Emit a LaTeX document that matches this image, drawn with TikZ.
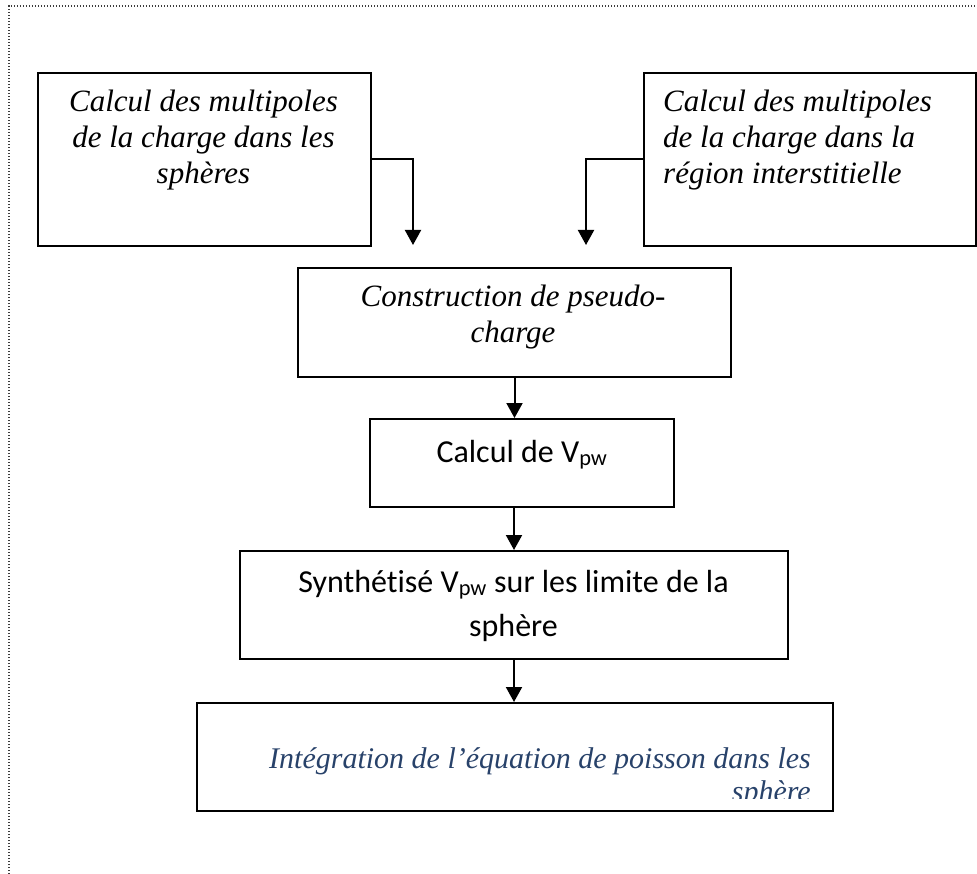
\documentclass[tikz,border=0pt]{standalone}
\usepackage{fontspec}
\setmainfont{Liberation Serif}
\newfontfamily\calib[Ligatures=NoCommon]{Carlito}
\newfontfamily\camb{Liberation Serif}
\usetikzlibrary{arrows.meta}
\definecolor{cambblue}{RGB}{40,66,106}
\definecolor{dotgray}{RGB}{60,60,60}
\tikzset{
  boxnode/.style={draw=black, line width=2pt, rectangle, inner sep=0pt, anchor=north west},
  conn/.style={draw=black, line width=2pt, -{Triangle[length=15pt,width=16pt]}},
  tnr/.style={inner sep=0pt, font=\fontsize{31}{36}\selectfont\itshape},
  cal/.style={inner sep=0pt, font=\calib\fontsize{32}{40}\selectfont},
  cmb/.style={inner sep=0pt, text=cambblue, font=\camb\fontsize{30}{36}\selectfont\itshape},
  frame/.style={draw=dotgray, line width=1.2pt, dash pattern=on 1.2pt off 1.8pt}
}
\begin{document}
\begin{tikzpicture}[x=1pt,y=-1pt]
\useasboundingbox (0,0) rectangle (977,874);
% dotted page frame
\draw[frame] (9,874) -- (9,6) -- (977,6);

% boxes
\node[boxnode, minimum width=333pt, minimum height=173pt] (b1) at (37,72) {};
\node[boxnode, minimum width=332pt, minimum height=173pt] (b2) at (643,72) {};
\node[boxnode, minimum width=433pt, minimum height=109pt] (b3) at (297,267) {};
\node[boxnode, minimum width=304pt, minimum height=88pt] (b4) at (369,418) {};
\node[boxnode, minimum width=548pt, minimum height=108pt] (b5) at (239,550) {};
\node[boxnode, minimum width=636pt, minimum height=108pt] (b6) at (196,702) {};

% texts
\node[tnr, anchor=base] (t1a) at (203.5,112) {Calcul des multipoles};
\node[tnr, anchor=base] (t1b) at (203.5,148) {de la charge dans les};
\node[tnr, anchor=base] (t1c) at (203.5,184) {sphères};

\node[tnr, anchor=base west] (t2a) at (663,112) {Calcul des multipoles};
\node[tnr, anchor=base west] (t2b) at (663,148) {de la charge dans la};
\node[tnr, anchor=base west] (t2c) at (663,184) {région interstitielle};

\node[tnr, anchor=base] (t3a) at (513,307) {Construction de pseudo-};
\node[tnr, anchor=base] (t3b) at (513,343) {charge};

\node[cal, anchor=base] (t4) at (522,462) {Calcul de V\textsubscript{pw}};

\node[cal, anchor=base] (t5a) at (513.5,592) {Synthétisé V\textsubscript{pw} sur les limite de la};
\node[cal, anchor=base] (t5b) at (513.5,636) {sphère};

\begin{scope}
  \clip (198,704) rectangle (830,798);
  \node[cmb, anchor=base east] (t6a) at (811,768) {Intégration de l’équation de poisson dans les};
  \node[cmb, anchor=base east] (t6b) at (811,801) {sphère};
\end{scope}

% connectors
\coordinate (a1) at (413,245);
\coordinate (a2) at (586,245);
\draw[conn] (b1.east) -| (a1);
\draw[conn] (b2.west) -| (a2);
\draw[conn] (b3.south) -- (b3.south |- b4.north);
\draw[conn] (b5.north |- b4.south) -- (b5.north);
\draw[conn] (b5.south) -- (b5.south |- b6.north);
\end{tikzpicture}
\end{document}
